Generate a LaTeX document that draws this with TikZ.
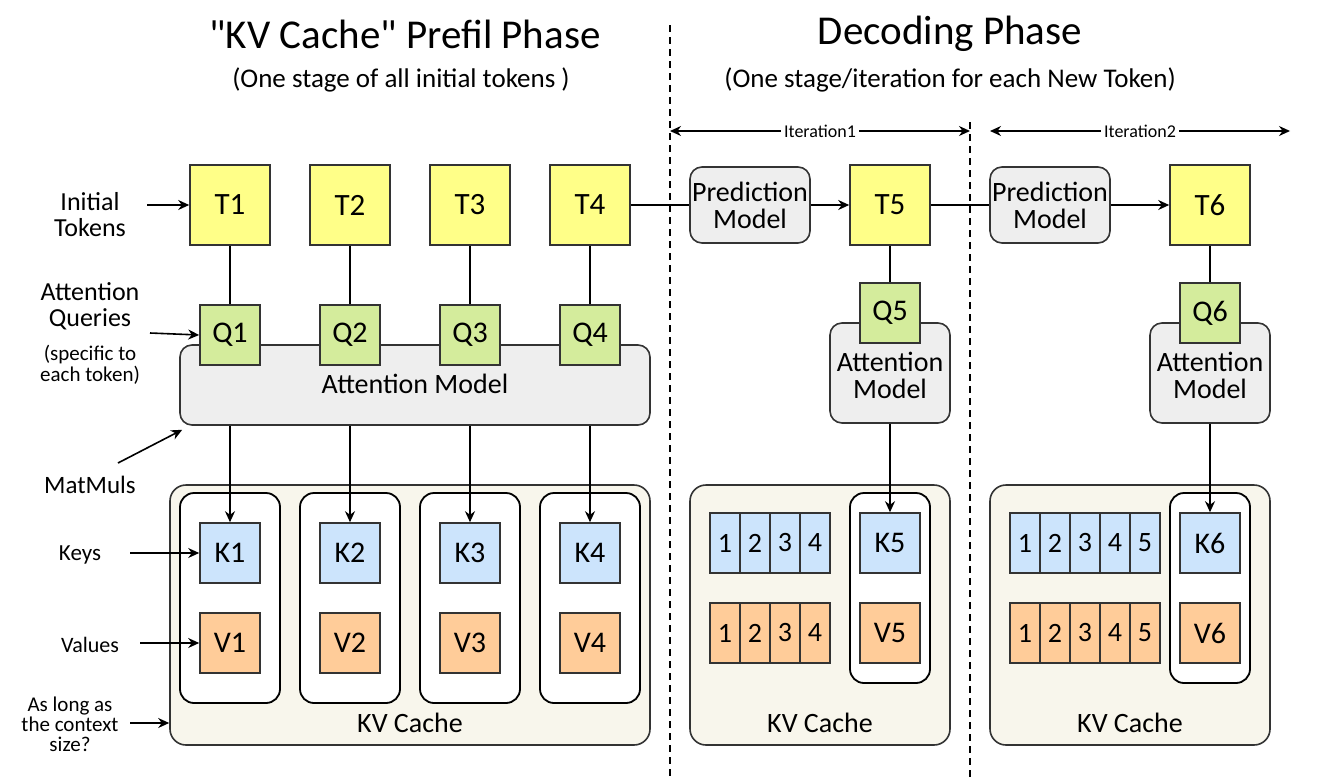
\documentclass[tikz,border=0pt]{standalone}
\usepackage{fontspec}
\setmainfont{Carlito}
\usetikzlibrary{arrows.meta,positioning,calc}
\definecolor{tokyel}{HTML}{FFFF88}
\definecolor{qgreen}{HTML}{D4EC9C}
\definecolor{kblue}{HTML}{CCE4FC}
\definecolor{vorange}{HTML}{FFCC99}
\definecolor{mgray}{HTML}{EEEEEE}
\definecolor{cream}{HTML}{F8F6EC}
\definecolor{bord}{HTML}{333333}
\newcommand{\fs}[1]{\fontsize{#1}{#1}\selectfont}
\tikzset{
  box/.style={draw=bord, line width=1.6pt, inner sep=0pt, align=center},
  tok/.style={box, fill=tokyel, minimum width=80, minimum height=80, font=\fs{31}},
  qbox/.style={box, fill=qgreen, minimum width=60, minimum height=60, font=\fs{30}},
  kbox/.style={box, fill=kblue, minimum width=60, minimum height=60, font=\fs{30}},
  vbox/.style={box, fill=vorange, minimum width=60, minimum height=60, font=\fs{30}},
  kcell/.style={box, fill=kblue, minimum width=30, minimum height=60, font=\fs{28}},
  vcell/.style={box, fill=vorange, minimum width=30, minimum height=60, font=\fs{28}},
  model/.style={box, fill=mgray, rounded corners=12, font=\fs{28}},
  cache/.style={box, fill=cream, rounded corners=16},
  inner/.style={draw=black, line width=1.8pt, fill=white, rounded corners=14, inner sep=0pt},
  lab/.style={align=center, font=\fs{26}},
  arr/.style={line width=1.6pt, -{Stealth[length=11pt,width=10pt]}},
  conn/.style={line width=1.6pt},
  dbl/.style={line width=1.6pt, {Stealth[length=11pt,width=10pt]}-{Stealth[length=11pt,width=10pt]}},
}
\begin{document}
\begin{tikzpicture}[x=1pt,y=-1pt]
\useasboundingbox (0,0) rectangle (1321,779);

% titles
\node[font=\fs{41}] (t1) at (405,34) {\textquotedbl KV Cache\textquotedbl\ Prefil Phase};
\node[font=\fs{27}] (st1) at (401,80) {(One stage of all initial tokens )};
\node[font=\fs{41}] (t2) at (950,34) {Decoding Phase};
\node[font=\fs{27}] (st2) at (950,80) {(One stage/iteration for each New Token)};

% dashed separators
\draw[dashed, line width=1.4pt, dash pattern=on 7pt off 5pt] (670,25) -- (670,779);
\draw[dashed, line width=1.4pt, dash pattern=on 7pt off 5pt] (970,122) -- (970,779);

% iteration arrows
\coordinate (i1a) at (670,131); \coordinate (i1b) at (970,131);
\coordinate (i2a) at (990,131); \coordinate (i2b) at (1290,131);
\draw[dbl] (i1a) -- node[fill=white, font=\fs{18}, inner sep=3pt] (it1) {Iteration1} (i1b);
\draw[dbl] (i2a) -- node[fill=white, font=\fs{18}, inner sep=3pt] (it2) {Iteration2} (i2b);

% prefill: attention model and KV cache containers
\node[model, minimum width=470, minimum height=80] (att) at (415,385) {};
\node[font=\fs{28}] (attl) at (415,384) {Attention Model};
\node[cache, minimum width=480, minimum height=260] (kv1) at (410,615) {};
\node[font=\fs{28}] (kv1l) at (410,723) {KV Cache};
\foreach \i/\x in {1/230,2/350,3/470,4/590}{
  \node[inner, minimum width=100, minimum height=210] (in\i) at (\x,598) {};
}

% tokens
\node[tok] (T1) at (230,205) {T1};
\node[tok] (T2) at (350,205) {T2};
\node[tok] (T3) at (470,205) {T3};
\node[tok] (T4) at (590,205) {T4};
\node[tok] (T5) at (890,205) {T5};
\node[tok] (T6) at (1210,205) {T6};

% prediction models
\node[model, minimum width=120, minimum height=76] (pm1) at (750,205) {Prediction\\[-1pt]Model};
\node[model, minimum width=120, minimum height=76] (pm2) at (1050,205) {Prediction\\[-1pt]Model};

% queries
\foreach \i/\x in {1/230,2/350,3/470,4/590}{
  \node[qbox] (Q\i) at (\x,335) {Q\i};
  \node[kbox] (K\i) at (\x,553) {K\i};
  \node[vbox] (V\i) at (\x,643) {V\i};
  \draw[conn] (T\i.south) -- (Q\i.north);
  \draw[arr] (att.south -| K\i) -- (K\i.north);
}

% decoding iteration 1
\node[model, minimum width=120, minimum height=100] (att5) at (890,373) {};
\node[font=\fs{28}, align=center] (att5l) at (890,375) {Attention\\[-1pt]Model};
\node[qbox] (Q5) at (890,313) {Q5};
\node[cache, minimum width=260, minimum height=260] (kv2) at (820,615) {};
\node[font=\fs{28}] (kv2l) at (820,723) {KV Cache};
\node[inner, minimum width=80, minimum height=190] (in5) at (890,588) {};
\node[kbox] (K5) at (890,543) {K5};
\node[vbox] (V5) at (890,633) {V5};
\foreach \n [count=\j from 0] in {1,2,3,4}{
  \node[kcell] (ka\n) at (725+30*\j,543) {\n};
  \node[vcell] (va\n) at (725+30*\j,633) {\n};
}

% decoding iteration 2
\node[model, minimum width=120, minimum height=100] (att6) at (1210,373) {};
\node[font=\fs{28}, align=center] (att6l) at (1210,375) {Attention\\[-1pt]Model};
\node[qbox] (Q6) at (1210,313) {Q6};
\node[cache, minimum width=280, minimum height=260] (kv3) at (1130,615) {};
\node[font=\fs{28}] (kv3l) at (1130,723) {KV Cache};
\node[inner, minimum width=80, minimum height=190] (in6) at (1210,588) {};
\node[kbox] (K6) at (1210,543) {K6};
\node[vbox] (V6) at (1210,633) {V6};
\foreach \n [count=\j from 0] in {1,2,3,4,5}{
  \node[kcell] (kb\n) at (1025+30*\j,543) {\n};
  \node[vcell] (vb\n) at (1025+30*\j,633) {\n};
}

% decoding connectors
\draw[conn] (T4.east) -- (pm1.west);
\draw[arr] (pm1.east) -- (T5.west);
\draw[conn] (T5.east) -- (pm2.west);
\draw[arr] (pm2.east) -- (T6.west);
\draw[conn] (T5.south) -- (Q5.north);
\draw[conn] (T6.south) -- (Q6.north);
\draw[arr] (att5.south) -- (K5.north);
\draw[arr] (att6.south) -- (K6.north);

% left labels
\node[lab] (lInit) at (90,215) {Initial\\[0pt]Tokens};
\draw[arr] (147,205) -- (T1.west);
\node[lab] (lQ) at (90,306) {Attention\\[0pt]Queries};
\node[lab, font=\fs{21}] (lQs) at (90,365) {(specific to\\[0pt]each token)};
\draw[arr] (150,333) -- (Q1.west);
\node[lab, font=\fs{25}] (lmm) at (90,485) {MatMuls};
\coordinate (mmstart) at (118,463);
\draw[arr] (mmstart) -- ([shift={(3pt,-4pt)}]att.south west);
\node[lab, font=\fs{23}] (lK) at (80,555) {Keys};
\draw[arr] (130,553) -- (K1.west);
\node[lab, font=\fs{22}] (lV) at (90,645) {Values};
\draw[arr] (140,643) -- (V1.west);
\node[lab, font=\fs{21}] (lL) at (70,724) {As long as\\[-1pt]the context\\[-1pt]size?};
\draw[arr] (130,723) -- (kv1.west |- 0,723);
\end{tikzpicture}
\end{document}
